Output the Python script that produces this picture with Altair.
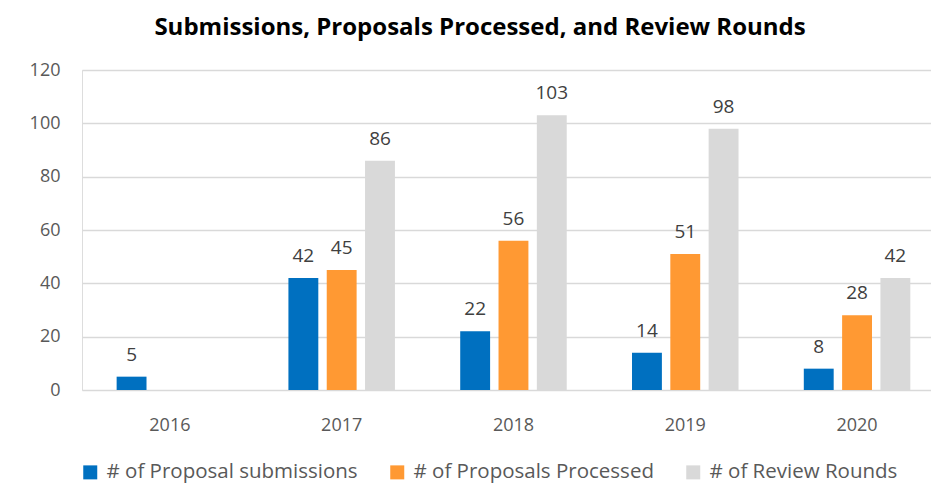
import altair as alt
import pandas as pd

years = ["2016", "2017", "2018", "2019", "2020"]
series = ["# of Proposal submissions", "# of Proposals Processed", "# of Review Rounds"]
submissions = [5, 42, 22, 14, 8]
processed = [None, 45, 56, 51, 28]
review_rounds = [None, 86, 103, 98, 42]
colors = ["#0070C0", "#FF9933", "#D9D9D9"]

rows = []
for s, vals in zip(series, [submissions, processed, review_rounds]):
    for y, v in zip(years, vals):
        if v is not None:
            rows.append({"year": y, "series": s, "value": v})
df = pd.DataFrame(rows)

font = "Open Sans"

x = alt.X("year:N", sort=years, title=None,
          scale=alt.Scale(paddingInner=0.38, paddingOuter=0.161, align=0.626),
          axis=alt.Axis(labelAngle=0, labelFontSize=18, labelColor="#595959",
                        labelFont=font, ticks=False, domain=False, labelPadding=26))
xo = alt.XOffset("series:N", sort=series,
                 scale=alt.Scale(paddingInner=0.22, paddingOuter=0.0))
yenc = alt.Y("value:Q", title=None,
             scale=alt.Scale(domain=[0, 120]),
             axis=alt.Axis(values=[0, 20, 40, 60, 80, 100, 120], labelFontSize=18,
                           labelColor="#595959", labelFont=font, ticks=False,
                           domain=False, gridColor="#D9D9D9", gridWidth=1.5,
                           labelPadding=22))

color = alt.Color("series:N", sort=series,
                  scale=alt.Scale(domain=series, range=colors),
                  legend=alt.Legend(title=None, orient="none", direction="horizontal",
                                    legendX=-2, legendY=392, symbolType="square",
                                    symbolSize=196, symbolStrokeWidth=0,
                                    labelFontSize=20.5, labelColor="#595959",
                                    labelFont=font, labelOffset=6, columnPadding=29,
                                    labelLimit=0))

bars = alt.Chart(df).mark_bar().encode(x=x, xOffset=xo, y=yenc, color=color)
labels = alt.Chart(df).mark_text(baseline="bottom", dy=-12, fontSize=19,
                                 color="#404040", font=font).encode(
    x=x, xOffset=xo, y=yenc, text="value:Q")

chart = (bars + labels).properties(
    width=849, height=320,
    padding={"left": 21, "top": 8, "right": 0, "bottom": 0},
    title=alt.Title("Submissions, Proposals Processed, and Review Rounds",
                    fontSize=24, fontWeight="bold", font=font, color="#000000",
                    offset=21, anchor="middle", frame="bounds"),
).configure_view(stroke=None).configure(background="white")

chart.save("out.html", embed_options={"renderer": "svg", "actions": False})
